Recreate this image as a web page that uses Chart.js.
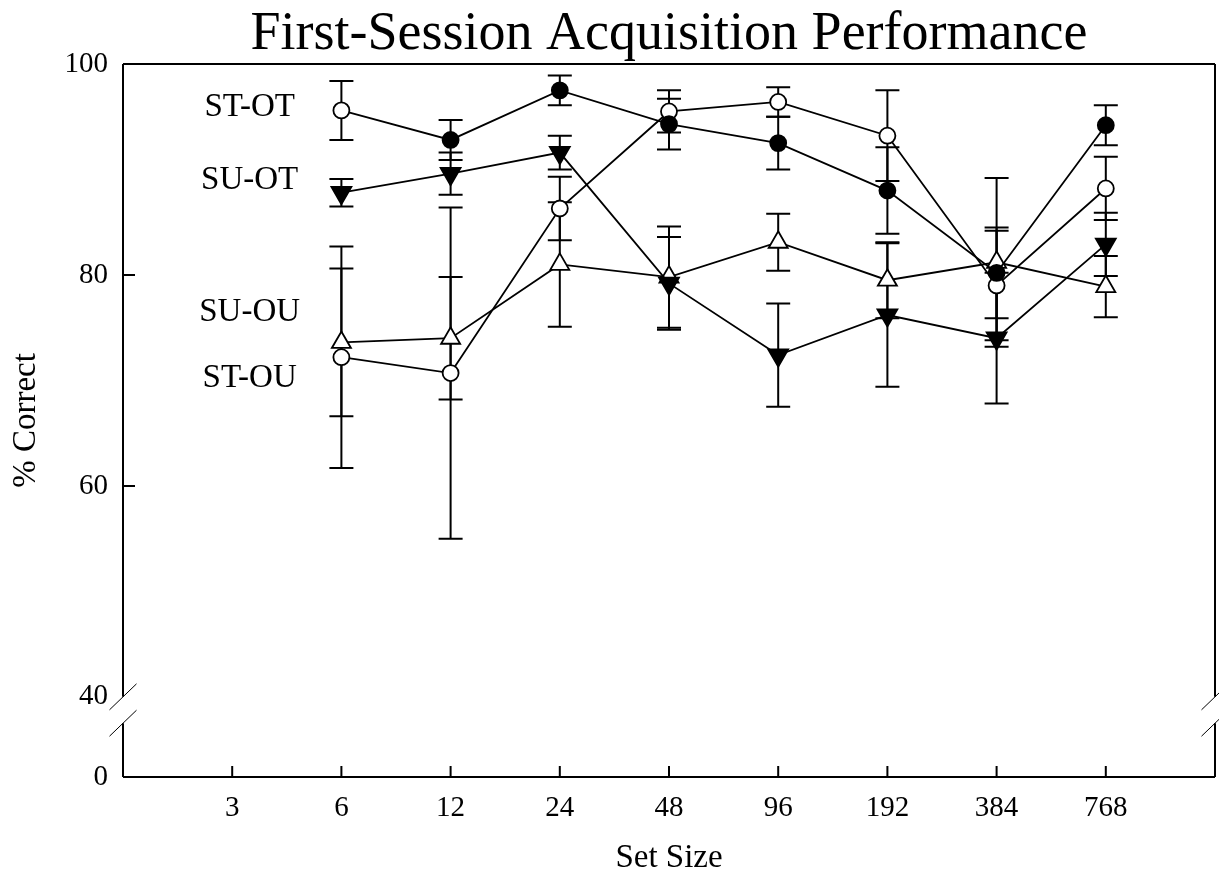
<!DOCTYPE html>
<html>
<head>
<meta charset="utf-8">
<title>First-Session Acquisition Performance</title>
<script src="https://cdn.jsdelivr.net/npm/chart.js@4.4.1/dist/chart.umd.min.js"></script>
<style>
  html, body { margin: 0; padding: 0; background: #fff; }
</style>
</head>
<body>
<canvas id="myChart" width="1219" height="872"></canvas>
<script>
// x axis categories (set size), data are at every size but 3
var setSizes = [3, 6, 12, 24, 48, 96, 192, 384, 768];
var testedSizes = [6, 12, 24, 48, 96, 192, 384, 768];
var yTickValues = [0, 40, 60, 80, 100];

// mean % correct and error bar half-lengths
var stOt = [95.6, 92.8, 97.5, 94.3, 92.5, 88.0, 80.2, 94.2];
var stOtErr = [2.8, 1.9, 1.4, 2.4, 2.5, 4.1, 4.3, 1.9];
var suOt = [87.8, 89.6, 91.6, 79.2, 72.4, 76.2, 74.0, 82.9];
var suOtErr = [1.3, 2.0, 1.6, 4.4, 4.9, 6.8, 6.2, 3.0];
var suOu = [73.6, 74.0, 81.0, 79.8, 83.1, 79.5, 81.2, 78.9];
var suOuErr = [7.0, 5.8, 5.9, 4.8, 2.7, 3.6, 8.0, 2.9];
var stOu = [72.2, 70.7, 86.3, 95.5, 96.4, 93.2, 79.0, 88.2];
var stOuErr = [10.5, 15.7, 3.0, 2.0, 1.4, 4.3, 5.2, 3.0];

var seriesNames = ['ST-OT', 'SU-OT', 'SU-OU', 'ST-OU'];

// the 0-40 stretch is squeezed under the break
var yFloor = 32.4;          // where "0" sits
var breakLow = 37.5, breakHigh = 40;

var serif = "'Liberation Serif', 'Times New Roman', serif";

function points(values) {
    return values.map(function (v, i) {
        return { x: setSizes.indexOf(testedSizes[i]), y: v };
    });
}

var errSets = [
    { values: stOt, err: stOtErr },
    { values: suOt, err: suOtErr },
    { values: suOu, err: suOuErr },
    { values: stOu, err: stOuErr }
];

var frame = {
    id: 'frame',
    beforeDatasetsDraw: function (chart) {
        var ctx = chart.ctx, xs = chart.scales.x, ys = chart.scales.y, a = chart.chartArea;
        ctx.save();
        ctx.strokeStyle = '#000';
        ctx.lineWidth = 2;

        // error bars
        errSets.forEach(function (s) {
            s.values.forEach(function (v, i) {
                var px = xs.getPixelForValue(setSizes.indexOf(testedSizes[i]));
                var hi = ys.getPixelForValue(v + s.err[i]);
                var lo = ys.getPixelForValue(v - s.err[i]);
                ctx.beginPath();
                ctx.moveTo(px, hi); ctx.lineTo(px, lo);
                ctx.moveTo(px - 12, hi); ctx.lineTo(px + 12, hi);
                ctx.moveTo(px - 12, lo); ctx.lineTo(px + 12, lo);
                ctx.stroke();
            });
        });

        // box with broken sides
        var gLo = ys.getPixelForValue(breakLow), gHi = ys.getPixelForValue(breakHigh);
        ctx.lineWidth = 2;
        ctx.beginPath();
        ctx.moveTo(a.left, a.top); ctx.lineTo(a.right, a.top);
        ctx.moveTo(a.left, a.bottom); ctx.lineTo(a.right, a.bottom);
        [a.left, a.right].forEach(function (sx) {
            ctx.moveTo(sx, a.bottom); ctx.lineTo(sx, gLo);
            ctx.moveTo(sx, gHi); ctx.lineTo(sx, a.top);
        });
        ctx.stroke();

        ctx.lineWidth = 1;
        ctx.beginPath();
        [a.left, a.right].forEach(function (sx) {
            [gLo, gHi].forEach(function (gy) {
                ctx.moveTo(sx - 13.5, gy + 13);
                ctx.lineTo(sx + 13.5, gy - 13);
            });
        });
        ctx.stroke();

        // inward ticks
        ctx.lineWidth = 2;
        ctx.beginPath();
        setSizes.forEach(function (s, i) {
            var px = xs.getPixelForValue(i);
            ctx.moveTo(px, a.bottom); ctx.lineTo(px, a.bottom - 11);
        });
        [60, 80].forEach(function (v) {
            var py = ys.getPixelForValue(v);
            ctx.moveTo(a.left, py); ctx.lineTo(a.left + 12, py);
        });
        ctx.stroke();
        ctx.restore();
    },
    afterDatasetsDraw: function (chart) {
        var ctx = chart.ctx, xs = chart.scales.x, ys = chart.scales.y;
        var tagY = [95.85, 89.0, 76.5, 70.2];   // label rows beside the first column
        ctx.save();
        ctx.fillStyle = '#000';
        ctx.font = '33px ' + serif;
        ctx.textAlign = 'center';
        ctx.textBaseline = 'middle';
        seriesNames.forEach(function (name, i) {
            ctx.fillText(name, xs.getPixelForValue(0.16), ys.getPixelForValue(tagY[i]));
        });
        ctx.restore();
    }
};

var lineStyle = {
    borderColor: '#000',
    borderWidth: 1.8,
    pointBorderColor: '#000',
    pointBorderWidth: 1.8,
    fill: false,
    tension: 0
};

var ctx = document.getElementById('myChart').getContext('2d');
var myChart = new Chart(ctx, {
    type: 'line',
    data: {
        datasets: [
            Object.assign({}, lineStyle, {
                label: seriesNames[0],
                data: points(stOt),
                pointStyle: 'circle',
                pointRadius: 8,
                // first point of this series is drawn open in the original
                pointBackgroundColor: stOt.map(function (v, i) { return i === 0 ? '#fff' : '#000'; })
            }),
            Object.assign({}, lineStyle, {
                label: seriesNames[1],
                data: points(suOt),
                pointStyle: 'triangle',
                pointRotation: 180,
                pointRadius: 11.5,
                pointBackgroundColor: '#000'
            }),
            Object.assign({}, lineStyle, {
                label: seriesNames[2],
                data: points(suOu),
                pointStyle: 'triangle',
                pointRadius: 11,
                pointBackgroundColor: '#fff'
            }),
            Object.assign({}, lineStyle, {
                label: seriesNames[3],
                data: points(stOu),
                pointStyle: 'circle',
                pointRadius: 8,
                pointBackgroundColor: '#fff'
            })
        ]
    },
    options: {
        responsive: false,
        animation: false,
        layout: { autoPadding: false, padding: { top: 0, right: 4, bottom: 0, left: 0 } },
        plugins: {
            legend: { display: false },
            tooltip: { enabled: false },
            title: {
                display: true,
                fullSize: false,
                text: 'First-Session Acquisition Performance',
                color: '#000',
                font: { family: serif, size: 54, weight: 'normal', lineHeight: 1.05 },
                padding: { top: 6.6, bottom: 0.7 }
            }
        },
        scales: {
            x: {
                type: 'linear',
                min: -1,
                max: 9,
                grid: { display: false, drawTicks: false },
                border: { display: false },
                afterBuildTicks: function (scale) {
                    scale.ticks = setSizes.map(function (s, i) { return { value: i }; });
                },
                afterFit: function (scale) {
                    scale.height = 95;
                    scale.paddingLeft = 0;
                    scale.paddingRight = 0;
                },
                ticks: {
                    color: '#000',
                    padding: 13.5,
                    font: { family: serif, size: 29 },
                    callback: function (v) { return setSizes[v]; }
                },
                title: {
                    display: true,
                    text: 'Set Size',
                    color: '#000',
                    font: { family: serif, size: 33, lineHeight: 0.85 },
                    padding: { top: 0, bottom: 0 }
                }
            },
            y: {
                min: yFloor,
                max: 100,
                grid: { display: false, drawTicks: false },
                border: { display: false },
                afterBuildTicks: function (scale) {
                    scale.ticks = yTickValues.map(function (v) { return { value: v === 0 ? yFloor : v }; });
                },
                afterFit: function (scale) { scale.width = 123; },
                ticks: {
                    color: '#000',
                    padding: 15,
                    font: { family: serif, size: 29 },
                    callback: function (v) { return v === yFloor ? '0' : v; }
                },
                title: {
                    display: true,
                    text: '% Correct',
                    color: '#000',
                    font: { family: serif, size: 33 },
                    padding: { top: 7, bottom: 0 }
                }
            }
        }
    },
    plugins: [frame]
});
</script>
</body>
</html>
